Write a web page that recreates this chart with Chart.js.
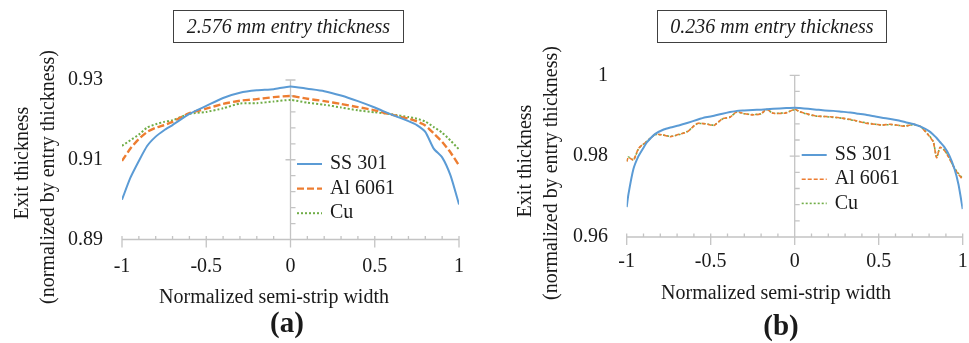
<!DOCTYPE html>
<html>
<head>
<meta charset="utf-8">
<script src="https://cdn.jsdelivr.net/npm/chart.js@4.4.1/dist/chart.umd.min.js"></script>
<style>
  body { margin: 0; width: 969px; height: 343px; background: #fff; position: relative; overflow: hidden;
         font-family: 'Liberation Serif', 'Times New Roman', serif; color: #1a1a1a; }
  canvas { position: absolute; top: 0; }
  .caption { position: absolute; top: 10px; height: 33px; box-sizing: border-box; border: 1.5px solid #404040;
             font-style: italic; font-size: 20px; line-height: 30px; text-align: center; white-space: nowrap; }
  .tag { position: absolute; font-weight: bold; font-size: 29px; line-height: 1; transform: translate(-50%, -50%); }
  .ytitle, .xtitle { position: absolute; font-size: 20px; line-height: 24px; white-space: nowrap; }
  .ytitle { transform: translate(-50%, -50%) rotate(-90deg); }
  .xtitle { transform: translate(-50%, -50%); }
</style>
</head>
<body>
<canvas id="chartA" width="485" height="343" style="left:0"></canvas>
<canvas id="chartB" width="484" height="343" style="left:485px"></canvas>

<div class="caption" style="left:173px; width:231px">2.576 mm entry thickness</div>
<div class="caption" style="left:657px; width:230px">0.236 mm entry thickness</div>

<div class="ytitle" style="left:21px; top:163px">Exit thickness</div>
<div class="ytitle" style="left:47px; top:177px">(normalized by entry thickness)</div>
<div class="ytitle" style="left:524px; top:161px">Exit thickness</div>
<div class="ytitle" style="left:550px; top:173px">(normalized by entry thickness)</div>

<div class="xtitle" style="left:274px; top:296px">Normalized semi-strip width</div>
<div class="xtitle" style="left:776px; top:292px">Normalized semi-strip width</div>

<div class="tag" style="left:287px; top:322px">(a)</div>
<div class="tag" style="left:781px; top:325px">(b)</div>

<script>
// ---- data ----
const seriesNames = ['SS 301', 'Al 6061', 'Cu'];
const xTicks = [-1, -0.5, 0, 0.5, 1];
const yTicksA = [0.89, 0.91, 0.93];
const yTicksB = [0.96, 0.98, 1];

// (a) 2.576 mm strip
const xA = [-1, -0.95, -0.9, -0.85, -0.8, -0.75, -0.7, -0.6, -0.5, -0.4, -0.3, -0.2, -0.1, 0,
            0.1, 0.2, 0.3, 0.4, 0.5, 0.6, 0.7, 0.75, 0.8, 0.85, 0.9, 0.95, 1];
const ssA = [0.9000, 0.9055, 0.9097, 0.9135, 0.9158, 0.9174, 0.9187, 0.9215, 0.9235, 0.9255, 0.9268, 0.9274, 0.9277, 0.9284,
             0.9278, 0.9272, 0.9261, 0.9247, 0.9231, 0.9213, 0.9197, 0.9187, 0.9170, 0.9128, 0.9106, 0.9060, 0.8988];
const alA = [0.9097, 0.9128, 0.9152, 0.9170, 0.9180, 0.9187, 0.9195, 0.9217, 0.9228, 0.9240, 0.9248, 0.9252, 0.9257, 0.9260,
             0.9253, 0.9247, 0.9240, 0.9232, 0.9224, 0.9213, 0.9203, 0.9196, 0.9186, 0.9166, 0.9145, 0.9118, 0.9086];
const cuA = [0.9135, 0.9149, 0.9163, 0.9181, 0.9189, 0.9195, 0.9199, 0.9215, 0.9220, 0.9229, 0.9241, 0.9242, 0.9246, 0.9250,
             0.9243, 0.9238, 0.9231, 0.9224, 0.9219, 0.9214, 0.9207, 0.9203, 0.9196, 0.9182, 0.9168, 0.9148, 0.9126];

// (b) 0.236 mm strip
const xB = [-1, -0.99, -0.96, -0.93, -0.9, -0.88, -0.83, -0.78, -0.74, -0.69, -0.64, -0.58, -0.53, -0.48, -0.43, -0.385,
            -0.345, -0.3, -0.25, -0.2, -0.167, -0.127, -0.05, 0, 0.03, 0.08, 0.13, 0.18, 0.23, 0.28, 0.33, 0.38, 0.43,
            0.48, 0.52, 0.57, 0.62, 0.66, 0.71, 0.75, 0.8, 0.825, 0.845, 0.865, 0.89, 0.92, 0.95, 0.975, 1];
const ssB = [0.9674, 0.9705, 0.9768, 0.9800, 0.9821, 0.9834, 0.9855, 0.9866, 0.9871, 0.9876, 0.9882, 0.9890, 0.9896, 0.9900,
             0.9905, 0.9909, 0.9912, 0.9913, 0.9914, 0.9915, 0.9916, 0.9917, 0.9919, 0.9920, 0.9919, 0.9917, 0.9915, 0.9913,
             0.9912, 0.9910, 0.9908, 0.9905, 0.9902, 0.9898, 0.9895, 0.9892, 0.9888, 0.9884, 0.9879, 0.9873, 0.9862, 0.9853,
             0.9845, 0.9835, 0.9823, 0.9802, 0.9770, 0.9730, 0.9669];
const alB = [0.9786, 0.9797, 0.9790, 0.9819, 0.9830, 0.9836, 0.9854, 0.9852, 0.9848, 0.9854, 0.9860, 0.9881, 0.9880, 0.9876,
             0.9893, 0.9896, 0.9910, 0.9905, 0.9902, 0.9905, 0.9916, 0.9906, 0.9907, 0.9916, 0.9910, 0.9904, 0.9899, 0.9898,
             0.9897, 0.9894, 0.9891, 0.9886, 0.9881, 0.9879, 0.9877, 0.9879, 0.9876, 0.9874, 0.9879, 0.9873, 0.9850, 0.9835,
             0.9796, 0.9822, 0.9815, 0.9795, 0.9770, 0.9755, 0.9742];
const cuB = [0.9788, 0.9798, 0.9791, 0.9818, 0.9830, 0.9837, 0.9853, 0.9852, 0.9849, 0.9853, 0.9861, 0.9880, 0.9880, 0.9877,
             0.9892, 0.9897, 0.9909, 0.9905, 0.9903, 0.9905, 0.9915, 0.9906, 0.9908, 0.9915, 0.9910, 0.9903, 0.9899, 0.9898,
             0.9896, 0.9894, 0.9890, 0.9886, 0.9882, 0.9879, 0.9877, 0.9878, 0.9876, 0.9875, 0.9878, 0.9873, 0.9851, 0.9836,
             0.9797, 0.9821, 0.9815, 0.9796, 0.9771, 0.9757, 0.9745];

const colors = ['#5b9bd5', '#ed7d31', '#70ad47'];
const FONT = "'Liberation Serif', 'Times New Roman', serif";
const TEXT = '#1a1a1a';
const AXIS = '#c4c4c4';
Chart.defaults.font.family = FONT;
Chart.defaults.color = TEXT;

function points(xs, ys) {
  return xs.map((x, i) => ({x: x, y: ys[i]}));
}

// bottom axis plus a vertical axis through x = 0, with Excel-style minor ticks
const crossAxes = {
  id: 'crossAxes',
  beforeDatasetsDraw(chart, args, o) {
    const {ctx, scales: {x, y}} = chart;
    const x0 = x.getPixelForValue(0);
    const yBot = y.getPixelForValue(y.min);
    const yTop = y.getPixelForValue(y.max);
    ctx.save();
    ctx.strokeStyle = AXIS;
    ctx.lineWidth = 1.3;
    ctx.beginPath();
    ctx.moveTo(x.left, yBot); ctx.lineTo(x.right, yBot);
    ctx.moveTo(x0, yTop); ctx.lineTo(x0, yBot);
    for (let v = x.min; v <= x.max + 1e-9; v += o.xMinor) {
      const px = x.getPixelForValue(v);
      const major = xTicks.some(t => Math.abs(t - v) < 1e-6);
      ctx.moveTo(px, yBot - 3.5);
      ctx.lineTo(px, yBot + (major ? 8 : 0));
    }
    for (let v = y.min; v <= y.max + 1e-9; v += o.yMinor) {
      const py = y.getPixelForValue(v);
      const major = o.yMajor.some(t => Math.abs(t - v) < 1e-6);
      ctx.moveTo(x0 - (major ? 5 : 0), py);
      ctx.lineTo(x0 + 5, py);
    }
    ctx.stroke();
    ctx.restore();
  }
};

// legend drawn inside the plot area
const innerLegend = {
  id: 'innerLegend',
  afterDatasetsDraw(chart, args, o) {
    const {ctx} = chart;
    chart.data.datasets.forEach((ds, i) => {
      const y = o.top + i * o.rowGap;
      ctx.save();
      ctx.strokeStyle = ds.borderColor;
      ctx.lineWidth = ds.borderWidth;
      ctx.setLineDash(ds.borderDash || []);
      ctx.beginPath();
      ctx.moveTo(o.left, y);
      ctx.lineTo(o.left + 25, y);
      ctx.stroke();
      ctx.setLineDash([]);
      ctx.fillStyle = TEXT;
      ctx.font = '20px ' + FONT;
      ctx.textBaseline = 'middle';
      ctx.fillText(ds.label, o.left + 33, y);
      ctx.restore();
    });
  }
};

function makeChart(id, p) {
  const datasets = [
    {label: seriesNames[0], data: points(p.x, p.ss), borderColor: colors[0], borderWidth: 2},
    {label: seriesNames[1], data: points(p.x, p.al), borderColor: colors[1], borderWidth: p.dashWidth, borderDash: p.dash},
    {label: seriesNames[2], data: points(p.x, p.cu), borderColor: colors[2], borderWidth: p.dotWidth, borderDash: [2, 2]}
  ];
  return new Chart(document.getElementById(id), {
    type: 'line',
    data: {datasets: datasets},
    options: {
      responsive: false,
      animation: false,
      events: [],
      layout: {padding: {left: 0, top: p.top, right: p.right, bottom: 0}},
      elements: {point: {radius: 0}, line: {tension: 0.2, borderCapStyle: 'butt'}},
      plugins: {
        legend: {display: false},
        tooltip: {enabled: false},
        crossAxes: {xMinor: 0.1, yMinor: 0.004, yMajor: p.yTicks},
        innerLegend: p.legend
      },
      scales: {
        x: {
          type: 'linear', min: -1, max: 1,
          afterBuildTicks: s => { s.ticks = xTicks.map(v => ({value: v})); },
          afterFit: s => { s.height = 343 - p.bottom; },
          // invisible tick marks only push the labels down
          grid: {display: true, color: 'rgba(0,0,0,0)', drawOnChartArea: false, drawTicks: true, tickLength: p.xPad},
          border: {display: false},
          ticks: {font: {size: 20}, color: TEXT, padding: 0, maxRotation: 0, callback: v => String(v)}
        },
        y: {
          min: p.yTicks[0], max: p.yTicks[p.yTicks.length - 1],
          afterBuildTicks: s => { s.ticks = p.yTicks.map(v => ({value: v})); },
          afterFit: s => { s.width = p.left; },
          grid: {display: false, drawTicks: false},
          border: {display: false},
          ticks: {font: {size: 20}, color: TEXT, padding: p.yPad, callback: v => String(v)}
        }
      }
    },
    plugins: [crossAxes, innerLegend]
  });
}

makeChart('chartA', {
  x: xA, ss: ssA, al: alA, cu: cuA, yTicks: yTicksA,
  left: 122, right: 26, top: 80, bottom: 239.5,
  xPad: 15, yPad: 19,
  dash: [7, 3], dashWidth: 2.4, dotWidth: 2,
  legend: {left: 297, top: 164, rowGap: 24.6}
});

makeChart('chartB', {
  x: xB, ss: ssB, al: alB, cu: cuB, yTicks: yTicksB,
  left: 141.7, right: 6.3, top: 75.3, bottom: 237,
  xPad: 12.7, yPad: 18.7,
  dash: [4, 2], dashWidth: 1.6, dotWidth: 1.6,
  legend: {left: 316.7, top: 155, rowGap: 24.2}
});
</script>
</body>
</html>
